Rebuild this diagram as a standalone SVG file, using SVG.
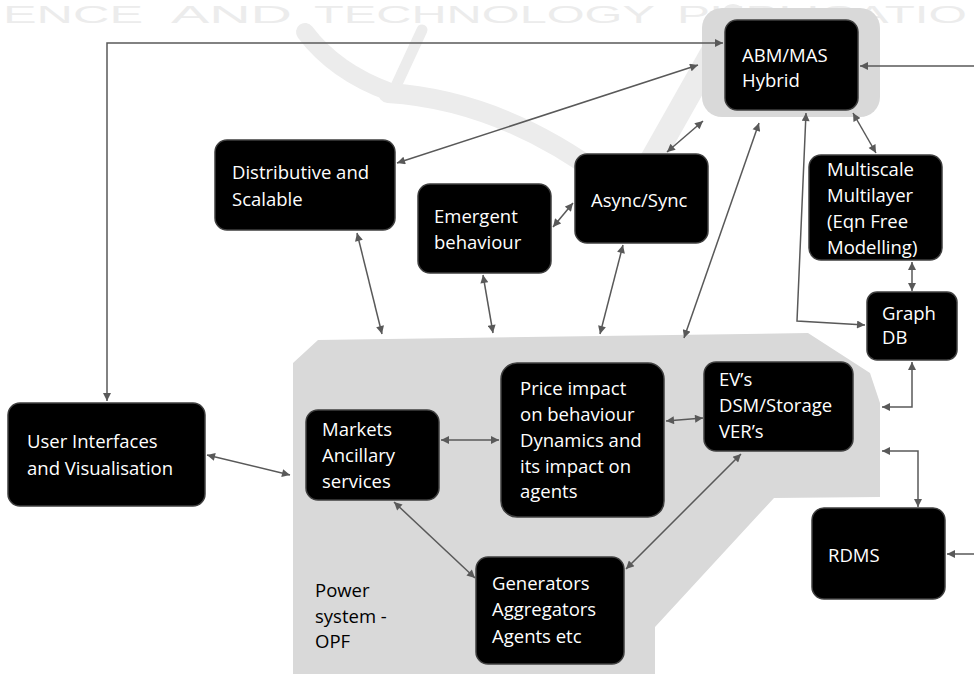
<svg xmlns="http://www.w3.org/2000/svg" width="974" height="674" viewBox="0 0 974 674">
<style>
.wm{font-family:"Liberation Sans",Arial,sans-serif;font-size:24px;fill:#ececec;}
.sw{fill:none;stroke:#ececec;stroke-linecap:round;}
.box{fill:#000;stroke:#3f3f3f;stroke-width:1.5;}
.t{font-family:"Open Sans","Liberation Sans",sans-serif;font-size:18.5px;fill:#fff;}
.lbl{font-family:"Open Sans","Liberation Sans",sans-serif;font-size:18.5px;fill:#000;}
.c{fill:none;stroke:#595959;stroke-width:1.5;}
.bi{marker-start:url(#ah);marker-end:url(#ah);}
.one{marker-end:url(#ah);}
</style>
<defs>
<marker id="ah" viewBox="0 0 10 10" refX="10" refY="5" markerWidth="9" markerHeight="8" markerUnits="userSpaceOnUse" orient="auto-start-reverse">
<path d="M0,0 L10,5 L0,10 z" fill="#595959"/>
</marker>
</defs>
<g id="watermark">
<text class="wm" x="3" y="23" textLength="140" lengthAdjust="spacingAndGlyphs">ENCE</text>
<text class="wm" x="171" y="23" textLength="121" lengthAdjust="spacingAndGlyphs">AND</text>
<text class="wm" x="314" y="23" textLength="341" lengthAdjust="spacingAndGlyphs">TECHNOLOGY</text>
<text class="wm" x="677" y="23" textLength="290" lengthAdjust="spacingAndGlyphs">PUBLICATIO</text>
<path class="sw" stroke-width="18" d="M305,32 Q335,72 390,92"/>
<path class="sw" stroke-width="11" d="M422,30 L396,86"/>
<path class="sw" stroke-width="20" d="M388,93 Q500,100 605,178"/>
<path class="sw" stroke-width="24" d="M733,16 L645,172"/>
</g>
<g id="power-system">
<path d="M318,340 L808,333 L870,373 L880,403 L880,497 L774,498 L655,627 L655,674 L293,674 L293,363 Z" fill="#d9d9d9"/>
<text class="lbl" x="315" y="597">Power</text>
<text class="lbl" x="315" y="623">system -</text>
<text class="lbl" x="315" y="648">OPF</text>
</g>
<rect id="abm-halo" x="702" y="8" width="178" height="109" rx="20" fill="#d9d9d9"/>
<g id="connectors">
<path class="c bi" d="M107,401 L107,43 L723,43"/>
<path class="c bi" d="M397,163 L698,65"/>
<path class="c bi" d="M667,152 L703,121"/>
<path class="c bi" d="M684,338 L759,123"/>
<path class="c bi" d="M806,113 L797,321 L865,325"/>
<path class="c bi" d="M853,113 L876,153"/>
<path class="c one" d="M974,66 L860,66"/>
<path class="c bi" d="M553,227 L573,203"/>
<path class="c bi" d="M357,233 L382,334"/>
<path class="c bi" d="M483,275 L493,333"/>
<path class="c bi" d="M623,245 L600,334"/>
<path class="c bi" d="M912,262 L912,291"/>
<path class="c bi" d="M912,362 L912,407 L882,407"/>
<path class="c bi" d="M882,451 L918,451 L918,507"/>
<path class="c one" d="M974,554 L947,554"/>
<path class="c bi" d="M207,455 L290,475"/>
<path class="c bi" d="M441,440 L499,440"/>
<path class="c bi" d="M666,421 L703,418"/>
<path class="c bi" d="M394,502 L475,578"/>
<path class="c bi" d="M741,454 L626,569"/>
</g>
<g id="abm">
<rect class="box" x="725" y="20" width="133" height="90" rx="12"/>
<text class="t" x="742" y="62">ABM/MAS</text>
<text class="t" x="742" y="87">Hybrid</text>
</g>
<g id="distributive">
<rect class="box" x="215" y="140" width="180" height="90" rx="12"/>
<text class="t" x="232" y="179">Distributive and</text>
<text class="t" x="232" y="206">Scalable</text>
</g>
<g id="emergent">
<rect class="box" x="418" y="184" width="133" height="89" rx="12"/>
<text class="t" x="434" y="223">Emergent</text>
<text class="t" x="434" y="249">behaviour</text>
</g>
<g id="async">
<rect class="box" x="575" y="154" width="133" height="89" rx="12"/>
<text class="t" x="591" y="207">Async/Sync</text>
</g>
<g id="multiscale">
<rect class="box" x="809" y="155" width="133" height="105" rx="12"/>
<text class="t" x="827" y="176">Multiscale</text>
<text class="t" x="827" y="202">Multilayer</text>
<text class="t" x="827" y="228">(Eqn Free</text>
<text class="t" x="827" y="254">Modelling)</text>
</g>
<g id="graphdb">
<rect class="box" x="867" y="292" width="90" height="68" rx="10"/>
<text class="t" x="882" y="320">Graph</text>
<text class="t" x="882" y="344">DB</text>
</g>
<g id="ui">
<rect class="box" x="8" y="403" width="197" height="103" rx="12"/>
<text class="t" x="27" y="448">User Interfaces</text>
<text class="t" x="27" y="475">and Visualisation</text>
</g>
<g id="markets">
<rect class="box" x="306" y="410" width="133" height="90" rx="12"/>
<text class="t" x="322" y="436">Markets</text>
<text class="t" x="322" y="462">Ancillary</text>
<text class="t" x="322" y="488">services</text>
</g>
<g id="price">
<rect class="box" x="501" y="363" width="163" height="154" rx="16"/>
<text class="t" x="520" y="395">Price impact</text>
<text class="t" x="520" y="421">on behaviour</text>
<text class="t" x="520" y="447">Dynamics and</text>
<text class="t" x="520" y="473">its impact on</text>
<text class="t" x="520" y="498">agents</text>
</g>
<g id="ev">
<rect class="box" x="704" y="362" width="149" height="89" rx="12"/>
<text class="t" x="719" y="386">EV’s</text>
<text class="t" x="719" y="412">DSM/Storage</text>
<text class="t" x="719" y="438">VER’s</text>
</g>
<g id="generators">
<rect class="box" x="476" y="557" width="148" height="107" rx="12"/>
<text class="t" x="492" y="590">Generators</text>
<text class="t" x="492" y="616">Aggregators</text>
<text class="t" x="492" y="643">Agents etc</text>
</g>
<g id="rdms">
<rect class="box" x="812" y="508" width="133" height="91" rx="12"/>
<text class="t" x="828" y="562">RDMS</text>
</g>
</svg>
